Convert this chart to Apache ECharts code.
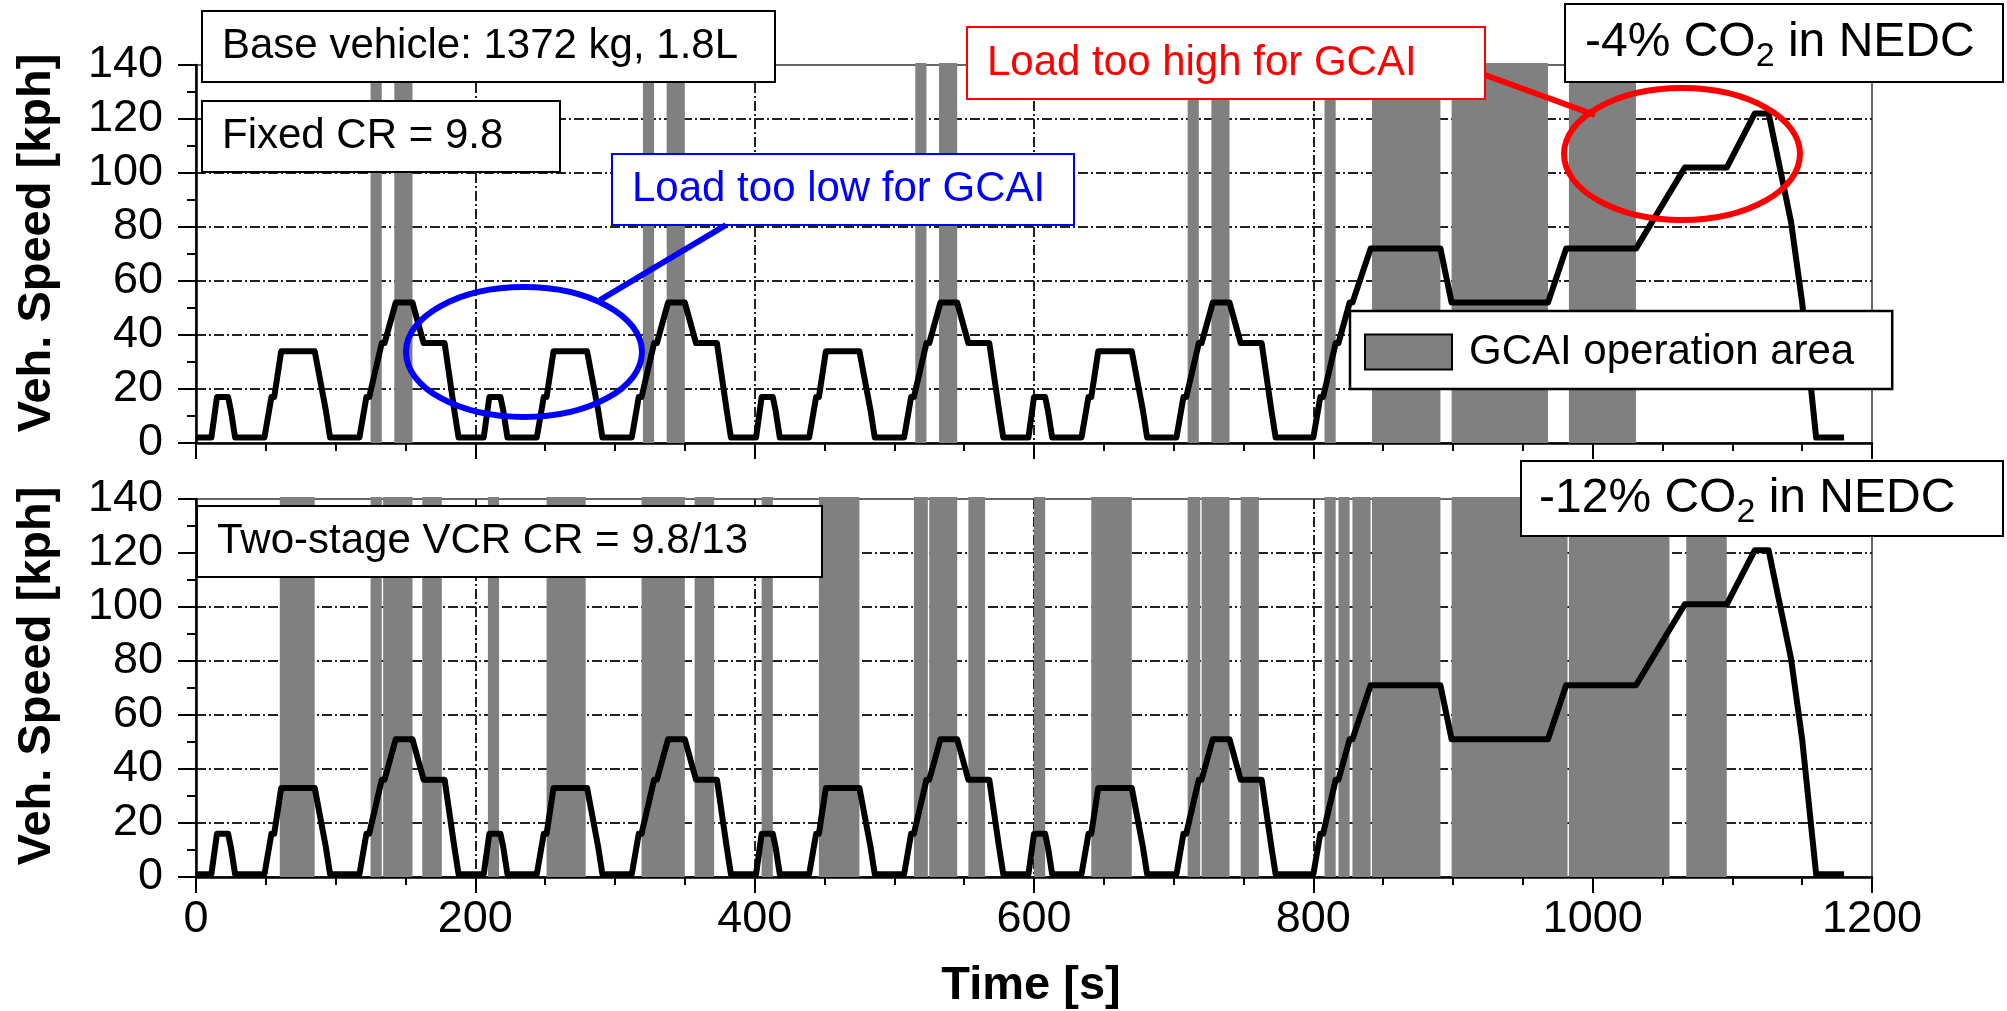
<!DOCTYPE html>
<html>
<head>
<meta charset="utf-8">
<script src="https://cdn.jsdelivr.net/npm/echarts@6/dist/echarts.min.js"></script>
<style>
  html, body { margin: 0; padding: 0; background: #fff; }
  #chart { width: 2007px; height: 1011px; }
</style>
</head>
<body>
<div id="chart"></div>
<script>
// NEDC: 4 x ECE-15 + EUDC, time in s
const timePts = [
  0, 11, 15, 23, 25, 28, 49, 54, 56, 61, 85, 93, 96, 117, 122, 124, 133, 135, 143, 155, 163, 176, 178, 185, 188,
  195, 206, 210, 218, 220, 223, 244, 249, 251, 256, 280, 288, 291, 312, 317, 319, 328, 330, 338, 350, 358, 371, 373, 380, 383,
  390, 401, 405, 413, 415, 418, 439, 444, 446, 451, 475, 483, 486, 507, 512, 514, 523, 525, 533, 545, 553, 566, 568, 575, 578,
  585, 596, 600, 608, 610, 613, 634, 639, 641, 646, 670, 678, 681, 702, 707, 709, 718, 720, 728, 740, 748, 761, 763, 770, 773,
  800, 805, 807, 816, 818, 826, 828, 841, 891, 899, 968, 981, 1031, 1066, 1096, 1116, 1126, 1142, 1150, 1160, 1180
];
// vehicle speed [kph], fixed CR panel
const speedTop = [
  2, 2, 17, 17, 12, 2, 2, 17, 17, 34, 34, 12, 2, 2, 17, 17, 37, 37, 52, 52, 37, 37, 37, 12, 2,
  2, 2, 17, 17, 12, 2, 2, 17, 17, 34, 34, 12, 2, 2, 17, 17, 37, 37, 52, 52, 37, 37, 37, 12, 2,
  2, 2, 17, 17, 12, 2, 2, 17, 17, 34, 34, 12, 2, 2, 17, 17, 37, 37, 52, 52, 37, 37, 37, 12, 2,
  2, 2, 17, 17, 12, 2, 2, 17, 17, 34, 34, 12, 2, 2, 17, 17, 37, 37, 52, 52, 37, 37, 37, 12, 2,
  2, 17, 17, 37, 37, 52, 52, 72, 72, 52, 52, 72, 72, 102, 102, 122, 122, 82, 52, 2, 2
];
// vehicle speed [kph], two-stage VCR panel
const speedBottom = [
  1, 1, 16, 16, 11, 1, 1, 16, 16, 33, 33, 11, 1, 1, 16, 16, 36, 36, 51, 51, 36, 36, 36, 11, 1,
  1, 1, 16, 16, 11, 1, 1, 16, 16, 33, 33, 11, 1, 1, 16, 16, 36, 36, 51, 51, 36, 36, 36, 11, 1,
  1, 1, 16, 16, 11, 1, 1, 16, 16, 33, 33, 11, 1, 1, 16, 16, 36, 36, 51, 51, 36, 36, 36, 11, 1,
  1, 1, 16, 16, 11, 1, 1, 16, 16, 33, 33, 11, 1, 1, 16, 16, 36, 36, 51, 51, 36, 36, 36, 11, 1,
  1, 16, 16, 36, 36, 51, 51, 71, 71, 51, 51, 71, 71, 101, 101, 121, 121, 81, 51, 1, 1
];
// GCAI operation areas [start, end] in s
const bandsTop = [
  [125, 133], [142, 155], [320, 328], [337, 350], [515, 523], [532, 545],
  [710, 718], [727, 740], [808, 816], [842, 891], [899, 968], [983, 1031]
];
const bandsBottom = [
  [60, 85], [125, 133], [134, 155], [162, 176], [209, 217], [251, 279], [319, 350],
  [357, 371], [405, 413], [446, 475], [514, 524], [525, 545], [553, 565], [600, 608],
  [641, 670], [710, 719], [720, 740], [748, 761], [808, 816], [818, 826], [828, 841],
  [842, 891], [899, 982], [983, 1055], [1067, 1096]
];

const FONT = '"Liberation Sans", Arial, sans-serif';
const BAND = 'GCAI operation area';
const GRID_LINE = { color: '#222', width: 2, type: [10, 3, 2, 3] };

const chart = echarts.init(document.getElementById('chart'), null, { renderer: 'canvas' });

function xAxis(idx) {
  return {
    type: 'value', gridIndex: idx, min: 0, max: 1200, interval: 200,
    axisLine: { show: true, onZero: false, lineStyle: { color: '#000', width: 2.5 } },
    axisTick: { show: true, length: 16, lineStyle: { color: '#000', width: 2 } },
    minorTick: { show: true, splitNumber: 4, length: 8, lineStyle: { color: '#000', width: 2 } },
    splitLine: { show: true, showMinLine: false, showMaxLine: false, lineStyle: GRID_LINE },
    axisLabel: { show: idx === 1, fontSize: 45, margin: 20, color: '#000', fontFamily: FONT,
      formatter: v => String(v) }
  };
}
function yAxis(idx) {
  return {
    type: 'value', gridIndex: idx, min: 0, max: 140, interval: 20,
    axisLine: { show: true, lineStyle: { color: '#000', width: 2.5 } },
    axisTick: { show: true, length: 18, lineStyle: { color: '#000', width: 2 } },
    minorTick: { show: true, splitNumber: 2, length: 9, lineStyle: { color: '#000', width: 2 } },
    splitLine: { show: true, showMinLine: false, showMaxLine: false, lineStyle: GRID_LINE },
    axisLabel: { fontSize: 45, margin: 33, color: '#000', fontFamily: FONT }
  };
}

function renderBand(params, api) {
  const a = api.coord([api.value(0), 140]);
  const b = api.coord([api.value(1), 0]);
  return {
    type: 'rect',
    shape: { x: a[0], y: a[1] - 2, width: b[0] - a[0], height: b[1] - a[1] + 2 },
    style: { fill: api.visual('color') }
  };
}
function bandSeries(idx, bands) {
  return {
    name: BAND, type: 'custom', xAxisIndex: idx, yAxisIndex: idx,
    renderItem: renderBand, encode: { x: [0, 1] },
    itemStyle: { color: '#808080' }, data: bands, z: 2, silent: true
  };
}
function speedSeries(idx, speeds) {
  return {
    type: 'line', xAxisIndex: idx, yAxisIndex: idx, symbol: 'none', z: 3,
    lineStyle: { color: '#000', width: 6, join: 'round' },
    data: timePts.map((t, i) => [t, speeds[i]])
  };
}

function box(x, y, w, h, text, color, lw) {
  return [
    { type: 'rect', z: 100, shape: { x: x, y: y, width: w, height: h },
      style: { fill: '#fff', stroke: color, lineWidth: lw } },
    { type: 'text', z: 101, x: x + 20, y: y + h / 2,
      style: { text: text, fill: color, fontSize: 42, fontFamily: FONT, verticalAlign: 'middle' } }
  ];
}
function co2Box(x, y, w, h, pre, tx) {
  return [
    { type: 'rect', z: 100, shape: { x: x, y: y, width: w, height: h },
      style: { fill: '#fff', stroke: '#000', lineWidth: 2 } },
    { type: 'text', z: 101, x: tx, y: y + h / 2,
      style: {
        text: '{m|' + pre + ' CO}{s|2}{m| in NEDC}', verticalAlign: 'middle',
        rich: {
          m: { fontSize: 48, fontFamily: FONT, fill: '#000' },
          s: { fontSize: 34, fontFamily: FONT, fill: '#000', padding: [28, 0, 0, 0] }
        }
      } }
  ];
}
function axisName(x, y, text, rot) {
  return { type: 'text', z: 101, x: x, y: y, rotation: rot,
    style: { text: text, fill: '#000', fontSize: 47, fontWeight: 'bold', fontFamily: FONT,
      align: 'center', verticalAlign: 'middle' } };
}

const graphics = [].concat(
  box(202, 11, 573, 71, 'Base vehicle: 1372 kg, 1.8L', '#000', 2),
  box(202, 101, 358, 71, 'Fixed CR = 9.8', '#000', 2),
  box(612, 154, 462, 71, 'Load too low for GCAI', '#0000ff', 2),
  box(967, 27, 518, 72, 'Load too high for GCAI', '#ff0000', 2),
  box(197, 506, 625, 71, 'Two-stage VCR CR = 9.8/13', '#000', 2),
  co2Box(1565, 4, 438, 78, '-4%', 1585),
  co2Box(1521, 461, 482, 75, '-12%', 1539),
  [
    { type: 'ellipse', z: 100, shape: { cx: 524, cy: 352, rx: 118, ry: 65 },
      style: { fill: 'none', stroke: '#0000ff', lineWidth: 6 } },
    { type: 'line', z: 100, shape: { x1: 600, y1: 300, x2: 726, y2: 225 },
      style: { stroke: '#0000ff', lineWidth: 6 } },
    { type: 'ellipse', z: 100, shape: { cx: 1682, cy: 154, rx: 118, ry: 66 },
      style: { fill: 'none', stroke: '#ff0000', lineWidth: 6 } },
    { type: 'line', z: 100, shape: { x1: 1485, y1: 75, x2: 1595, y2: 115 },
      style: { stroke: '#ff0000', lineWidth: 6 } },
    axisName(37, 243, 'Veh. Speed [kph]', Math.PI / 2),
    axisName(37, 676, 'Veh. Speed [kph]', Math.PI / 2),
    axisName(1031, 986, 'Time [s]', 0)
  ]
);

chart.setOption({
  animation: false,
  backgroundColor: '#fff',
  grid: [
    { left: 196, right: 135, top: 65, height: 378, show: true, borderColor: '#666', borderWidth: 2 },
    { left: 196, right: 135, top: 499, height: 378, show: true, borderColor: '#666', borderWidth: 2 }
  ],
  legend: {
    data: [{ name: BAND, icon: 'rect' }],
    left: 1350, top: 311, selectedMode: false,
    backgroundColor: '#fff', borderColor: '#000', borderWidth: 2.5,
    padding: [20, 38, 16, 14],
    itemWidth: 87, itemHeight: 35,
    itemStyle: { borderColor: '#000', borderWidth: 2 },
    textStyle: { fontSize: 42, color: '#000', fontFamily: FONT, lineHeight: 35, padding: [0, 0, 0, 12] }
  },
  xAxis: [xAxis(0), xAxis(1)],
  yAxis: [yAxis(0), yAxis(1)],
  series: [
    bandSeries(0, bandsTop),
    bandSeries(1, bandsBottom),
    speedSeries(0, speedTop),
    speedSeries(1, speedBottom)
  ],
  graphic: { elements: graphics }
});
</script>
</body>
</html>
